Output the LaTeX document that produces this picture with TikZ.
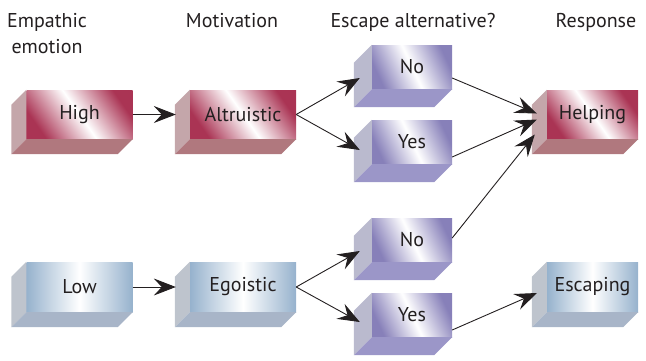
\documentclass[tikz,border=0pt]{standalone}
\usepackage{fontspec}
\setmainfont{PT Sans}
\usepackage{tikz}
\usetikzlibrary{calc,positioning,arrows.meta}
\definecolor{crimsonbox}{RGB}{170,52,84}
\definecolor{crimsonside}{RGB}{196,166,170}
\definecolor{crimsonbottom}{RGB}{176,120,126}
\definecolor{steelbox}{RGB}{150,178,205}
\definecolor{steelside}{RGB}{190,196,205}
\definecolor{steelbottom}{RGB}{168,181,200}
\definecolor{lavenderbox}{RGB}{135,128,185}
\definecolor{lavenderside}{RGB}{186,186,206}
\definecolor{lavenderbottom}{RGB}{155,150,200}
\definecolor{inkgray}{RGB}{35,31,32}

% side and bottom faces behind a front face: node, depth, side colour, bottom colour
\newcommand{\boxfaces}[4]{%
  \fill[#3] (#1.north west) -- (#1.south west) -- ++(-#2,#2) -- ($(#1.north west)+(-#2,#2)$) -- cycle;
  \fill[#4] (#1.south west) -- (#1.south east) -- ++(-#2,#2) -- ($(#1.south west)+(-#2,#2)$) -- cycle;
}

\begin{document}
\begin{tikzpicture}[x=1pt,y=-1pt,>={Stealth[length=22pt,width=17pt,inset=8pt]}]
    \tikzstyle{header}=[text=inkgray, font=\fontsize{20}{26}\selectfont, align=center, inner sep=0pt]
    \tikzstyle{facebox}=[inner sep=0pt, text=inkgray, font=\fontsize{20}{24}\selectfont]
    \tikzstyle{redface}=[facebox, minimum height=49pt, left color=crimsonbox, right color=crimsonbox, middle color=white, shading angle=125]
    \tikzstyle{blueface}=[facebox, minimum height=50pt, left color=steelbox, right color=steelbox, middle color=white]
    \tikzstyle{purpleface}=[facebox, minimum width=80pt, minimum height=44pt, left color=lavenderbox, right color=lavenderbox, middle color=white, shading angle=115]
    \tikzstyle{link}=[->, line width=0.9pt, inkgray]

    \useasboundingbox (0,0) rectangle (646,360);

    % Column headers
    \node (hemp)[header, anchor=base] at (47,53) {Empathic\\emotion};
    \node (hmot)[header, anchor=base] at (232,27) {Motivation};
    \node (hesc)[header, anchor=base] at (413,27) {Escape alternative?};
    \node (hres)[header, anchor=base] at (596,27) {Response};

    % Upper row (front faces)
    \node (high)[redface, minimum width=106pt] at (79.5,114.5) {High};
    \node (altr)[redface, minimum width=106pt] at (243,114.5) {Altruistic};
    \node (helping)[redface, minimum width=91pt] at (592.5,114.5) {Helping};
    \node (noA)[purpleface] at (412,67) {No};
    \node (yesA)[purpleface] at (412,142) {Yes};

    % Lower row (front faces)
    \node (low)[blueface, minimum width=106pt] at (79.5,287) {Low};
    \node (ego)[blueface, minimum width=106pt] at (243,287) {Egoistic};
    \node (escaping)[blueface, minimum width=91pt] at (592.5,287) {Escaping};
    \node (noB)[purpleface] at (412,240) {No};
    \node (yesB)[purpleface] at (412,315) {Yes};

    % Depth of the boxes
    \boxfaces{high}{15}{crimsonside}{crimsonbottom}
    \boxfaces{altr}{15}{crimsonside}{crimsonbottom}
    \boxfaces{helping}{15}{crimsonside}{crimsonbottom}
    \boxfaces{low}{15}{steelside}{steelbottom}
    \boxfaces{ego}{15}{steelside}{steelbottom}
    \boxfaces{escaping}{15}{steelside}{steelbottom}
    \boxfaces{noA}{18}{lavenderside}{lavenderbottom}
    \boxfaces{yesA}{18}{lavenderside}{lavenderbottom}
    \boxfaces{noB}{18}{lavenderside}{lavenderbottom}
    \boxfaces{yesB}{18}{lavenderside}{lavenderbottom}

    % Emotion to motivation
    \draw[link] (high.east) -- ([xshift=-14pt]altr.west);
    \draw[link] (low.east) -- ([xshift=-14pt]ego.west);

    % Motivation to escape alternative
    \draw[link] (altr.east) -- ([xshift=-12pt,yshift=-11pt]noA.west);
    \draw[link] (altr.east) -- ([xshift=-12pt,yshift=-8pt]yesA.west);
    \draw[link] (ego.east) -- ([xshift=-12pt,yshift=-11pt]noB.west);
    \draw[link] (ego.east) -- ([xshift=-12pt,yshift=-7pt]yesB.west);

    % Escape alternative to response
    \draw[link] ([yshift=-11pt]noA.east) -- ([xshift=-10pt,yshift=1pt]helping.west);
    \draw[link] ([yshift=-15pt]yesA.east) -- ([xshift=-10pt,yshift=-5pt]helping.west);
    \draw[link] ([yshift=2pt]noB.east) -- ([xshift=-12pt,yshift=-20pt]helping.west);
    \draw[link] ([yshift=-15pt]yesB.east) -- ([xshift=-10pt,yshift=-6pt]escaping.west);
\end{tikzpicture}
\end{document}
